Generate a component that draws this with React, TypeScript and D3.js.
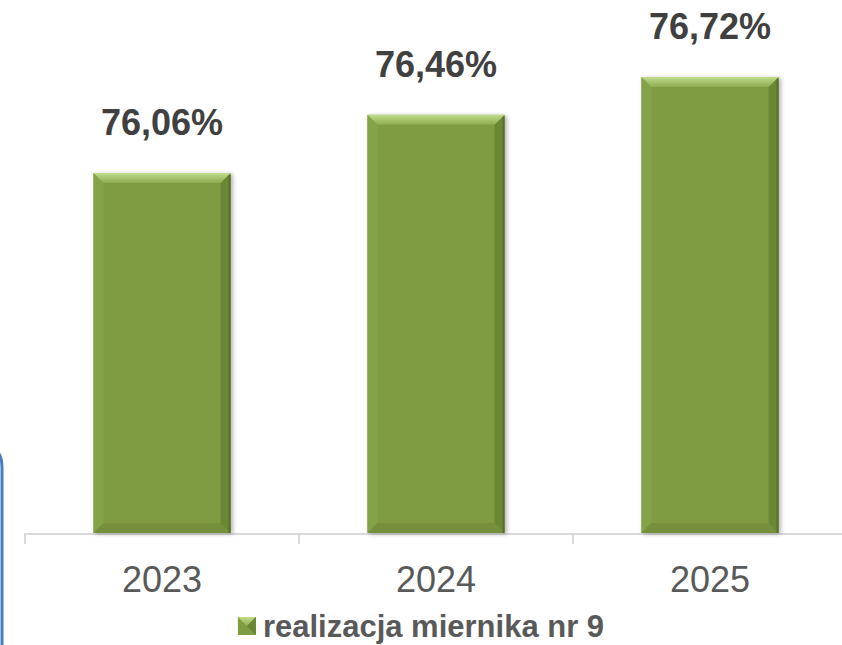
import React, { useRef, useEffect } from 'react';
import * as d3 from 'd3';

const categories = ['2023', '2024', '2025'];
const values = [76.06, 76.46, 76.72];
const valueLabels = ['76,06%', '76,46%', '76,72%'];
const seriesName = 'realizacja miernika nr 9';

function App() {
    const ref = useRef<SVGSVGElement | null>(null);

    useEffect(() => {
        const width = 842;
        const height = 645;
        const baseY = 533;

        const svg = d3.select(ref.current);
        svg.selectAll('*').remove();

        const defs = svg.append('defs');
        const topGrad = defs.append('linearGradient')
            .attr('id', 'topBevel').attr('x1', 0).attr('y1', 0).attr('x2', 0).attr('y2', 1);
        topGrad.append('stop').attr('offset', '0%').attr('stop-color', '#c2dc8c');
        topGrad.append('stop').attr('offset', '100%').attr('stop-color', '#8dac50');

        const shadow = defs.append('filter').attr('id', 'shadow')
            .attr('x', '-10%').attr('y', '-10%').attr('width', '130%').attr('height', '130%');
        shadow.append('feDropShadow')
            .attr('dx', 2).attr('dy', 1).attr('stdDeviation', 2)
            .attr('flood-color', '#000').attr('flood-opacity', 0.3);

        // blue frame edge on the left
        svg.append('path')
            .attr('d', 'M -20 448 L -12 448 Q 2 448 2 468 L 2 650')
            .attr('fill', 'none')
            .attr('stroke', '#4a7dbf')
            .attr('stroke-width', 3);

        const x = d3.scaleBand<string>()
            .domain(categories)
            .range([25, 847])
            .paddingInner(0.5)
            .paddingOuter(0.25);

        const y = d3.scaleLinear()
            .domain([73.585, 76.72])
            .range([baseY, 77]);

        const step = x.step();

        // axis line and ticks
        svg.append('line')
            .attr('x1', 25).attr('x2', width)
            .attr('y1', baseY + 1).attr('y2', baseY + 1)
            .attr('stroke', '#d9d9d9').attr('stroke-width', 2);

        svg.selectAll('.tick')
            .data(d3.range(categories.length + 1))
            .enter()
            .append('line')
            .attr('x1', (i) => 25 + i * step)
            .attr('x2', (i) => 25 + i * step)
            .attr('y1', baseY)
            .attr('y2', baseY + 11)
            .attr('stroke', '#d9d9d9').attr('stroke-width', 2);

        const b = 10;
        const bars = svg.selectAll('.bar')
            .data(categories)
            .enter()
            .append('g')
            .attr('filter', 'url(#shadow)');

        bars.each(function (c, i) {
            const g = d3.select(this);
            const x0 = x(c) as number;
            const x1 = x0 + x.bandwidth();
            const y0 = y(values[i]);
            const y1 = baseY;
            g.append('rect')
                .attr('x', x0).attr('y', y0)
                .attr('width', x1 - x0).attr('height', y1 - y0)
                .attr('fill', '#7f9c43');
            // left side
            g.append('polygon')
                .attr('points', `${x0},${y0} ${x0 + b},${y0 + b} ${x0 + b},${y1 - b} ${x0},${y1}`)
                .attr('fill', '#84a247');
            // right side
            g.append('polygon')
                .attr('points', `${x1},${y0} ${x1 - b},${y0 + b} ${x1 - b},${y1 - b} ${x1},${y1}`)
                .attr('fill', '#6a8735');
            // bottom
            g.append('polygon')
                .attr('points', `${x0},${y1} ${x0 + b},${y1 - b} ${x1 - b},${y1 - b} ${x1},${y1}`)
                .attr('fill', '#758f3c');
            // top
            g.append('polygon')
                .attr('points', `${x0},${y0} ${x1},${y0} ${x1 - b},${y0 + b} ${x0 + b},${y0 + b}`)
                .attr('fill', 'url(#topBevel)');
            // right dark edge
            g.append('line')
                .attr('x1', x1 - 1).attr('x2', x1 - 1)
                .attr('y1', y0 + 2).attr('y2', y1)
                .attr('stroke', '#56702a').attr('stroke-width', 2);
        });

        // value labels
        svg.selectAll('.vlabel')
            .data(categories)
            .enter()
            .append('text')
            .attr('x', (c) => (x(c) as number) + x.bandwidth() / 2)
            .attr('y', (c, i) => y(values[i]) - 38)
            .attr('text-anchor', 'middle')
            .attr('font-family', 'Liberation Sans, Arial, sans-serif')
            .attr('font-weight', 'bold')
            .attr('font-size', 36)
            .attr('fill', '#404040')
            .text((c, i) => valueLabels[i]);

        // category labels
        svg.selectAll('.clabel')
            .data(categories)
            .enter()
            .append('text')
            .attr('x', (c) => (x(c) as number) + x.bandwidth() / 2)
            .attr('y', 592)
            .attr('text-anchor', 'middle')
            .attr('font-family', 'Liberation Sans, Arial, sans-serif')
            .attr('font-size', 36)
            .attr('fill', '#595959')
            .text((c) => c);

        // legend
        const legend = svg.append('g');
        const text = legend.append('text')
            .attr('x', 262)
            .attr('y', 637)
            .attr('font-family', 'Liberation Sans, Arial, sans-serif')
            .attr('font-weight', 'bold')
            .attr('font-size', 31)
            .attr('fill', '#595959')
            .text(seriesName);
        const tw = (text.node() as SVGTextElement).getComputedTextLength();
        const total = 18 + 7 + tw;
        const lx = (width - total) / 2;
        text.attr('x', lx + 25);
        const s = 18;
        const sy = 617;
        legend.append('rect').attr('x', lx).attr('y', sy).attr('width', s).attr('height', s).attr('fill', '#7f9c43');
        legend.append('polygon')
            .attr('points', `${lx},${sy} ${lx + s},${sy} ${lx + s / 2},${sy + s / 2}`)
            .attr('fill', 'url(#topBevel)');
        legend.append('polygon')
            .attr('points', `${lx + s},${sy} ${lx + s},${sy + s} ${lx + s / 2},${sy + s / 2}`)
            .attr('fill', '#6a8735');
    }, []);

    return (
        <svg ref={ref} width={842} height={645} style={{ display: 'block', position: 'absolute', left: 0, top: 0 }}></svg>
    );
}

export default App;
